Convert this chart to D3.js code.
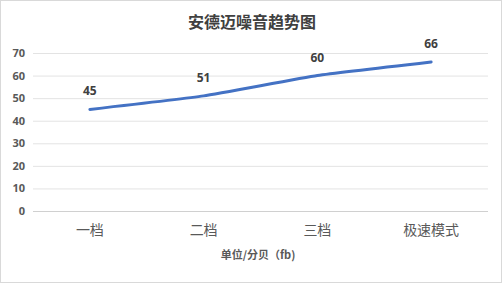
<!DOCTYPE html>
<html>
<head>
<meta charset="utf-8">
<script src="https://cdn.jsdelivr.net/npm/d3@7"></script>
<style>
  body { margin: 0; background: #fff; }
  text { font-family: "Noto Sans CJK SC", "Microsoft YaHei", sans-serif; }
</style>
</head>
<body>
<div id="chart"></div>
<script>
var categories = ["一档", "二档", "三档", "极速模式"];
var values = [45, 51, 60, 66];
var yTicks = [0, 10, 20, 30, 40, 50, 60, 70];

var width = 502, height = 283;
var plotLeft = 33, plotRight = 488, plotTop = 53, plotBottom = 211;

var svg = d3.select("#chart").append("svg")
    .attr("width", width)
    .attr("height", height);

// chart border
svg.append("rect")
    .attr("x", 0.5).attr("y", 0.5)
    .attr("width", width - 1).attr("height", height - 1)
    .attr("fill", "#fff")
    .attr("stroke", "#d9d9d9");

var x = d3.scaleBand().domain(categories).range([plotLeft, plotRight]);
var y = d3.scaleLinear().domain([0, 70]).range([plotBottom, plotTop]);

// gridlines
svg.append("g")
    .selectAll("line")
    .data(yTicks)
    .enter()
    .append("line")
    .attr("x1", plotLeft).attr("x2", plotRight)
    .attr("y1", function (d) { return y(d) + 0.5; })
    .attr("y2", function (d) { return y(d) + 0.5; })
    .attr("stroke", function (d) { return d === 0 ? "#d0d0d0" : "#e3e3e3"; })
    .attr("stroke-width", 1);

// y axis labels
var yAxis = d3.axisLeft(y).tickValues(yTicks).tickSize(0).tickPadding(8);
var gy = svg.append("g")
    .attr("transform", "translate(" + plotLeft + ",0)")
    .call(yAxis);
gy.select(".domain").remove();
gy.selectAll("text")
    .attr("fill", "#595959")
    .style("font-size", "11px")
    .style("font-weight", "bold")
    .style("font-family", "'Open Sans', sans-serif");

// x axis labels
var xAxis = d3.axisBottom(x).tickSize(0).tickPadding(14);
var gx = svg.append("g")
    .attr("transform", "translate(0," + plotBottom + ")")
    .call(xAxis);
gx.select(".domain").remove();
gx.selectAll("text")
    .attr("fill", "#595959")
    .style("font-size", "14px");

// line (light smoothing, like the spreadsheet's smoothed line)
var line = d3.line()
    .x(function (d, i) { return x(categories[i]) + x.bandwidth() / 2; })
    .y(function (d) { return y(d); })
    .curve(d3.curveCardinal.tension(0.6));

svg.append("path")
    .datum(values)
    .attr("d", line)
    .attr("fill", "none")
    .attr("stroke", "#4472c4")
    .attr("stroke-width", 3)
    .attr("stroke-linecap", "round");

// data labels
svg.append("g")
    .selectAll("text")
    .data(values)
    .enter()
    .append("text")
    .attr("x", function (d, i) { return x(categories[i]) + x.bandwidth() / 2; })
    .attr("y", function (d) { return y(d) - 14; })
    .attr("text-anchor", "middle")
    .attr("fill", "#404040")
    .style("font-size", "12px")
    .style("font-weight", "bold")
    .style("font-family", "'Open Sans', sans-serif")
    .text(function (d) { return d; });

// title
svg.append("text")
    .attr("x", 252).attr("y", 28)
    .attr("text-anchor", "middle")
    .attr("fill", "#404040")
    .style("font-size", "16px")
    .style("font-weight", "bold")
    .text("安德迈噪音趋势图");

// axis title
svg.append("text")
    .attr("x", 258).attr("y", 259)
    .attr("text-anchor", "middle")
    .attr("fill", "#595959")
    .style("font-size", "11px")
    .style("font-weight", "bold")
    .text("单位/分贝（fb)");
</script>
</body>
</html>
